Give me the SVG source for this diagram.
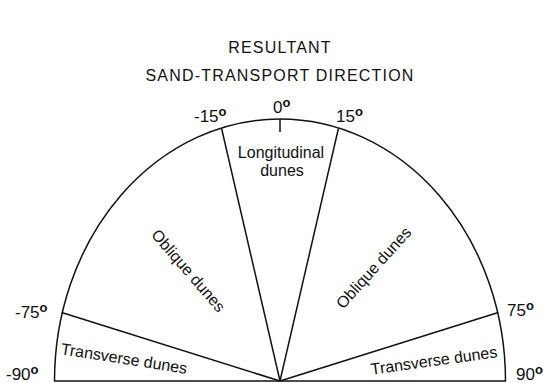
<svg xmlns="http://www.w3.org/2000/svg" width="548" height="383" viewBox="0 0 548 383">
<style>
text{font-family:"Liberation Sans",Arial,sans-serif;fill:#111}
.title{font-size:16px;letter-spacing:1.2px;text-anchor:middle}
.deg{font-size:17px}
.sup{font-size:13px;font-weight:bold}
.lab{font-size:16px}
.ln{stroke:#111;stroke-width:1.5;fill:none}
</style>
<rect width="548" height="383" fill="#fff"/>
<g id="title">
<text class="title" x="280" y="53">RESULTANT</text>
<text class="title" x="280" y="81">SAND-TRANSPORT DIRECTION</text>
</g>
<g id="connectors">
<path class="ln" d="M54.5,381 A225.5 262 0 0 1 505.5,381"/>
<line class="ln" x1="54" y1="381" x2="506" y2="381" stroke-width="2.2"/>
<line class="ln" x1="280" y1="381" x2="61.7" y2="312.5"/>
<line class="ln" x1="280" y1="381" x2="221.6" y2="128.5"/>
<line class="ln" x1="280" y1="381" x2="338.4" y2="128.5"/>
<line class="ln" x1="280" y1="381" x2="498.3" y2="312.5"/>
<line class="ln" x1="280" y1="119" x2="280" y2="132"/>
</g>
<g id="angles">
<text class="deg" x="194" y="122">-15<tspan class="sup" dy="-6">o</tspan></text>
<text class="deg" x="273" y="113">0<tspan class="sup" dy="-6">o</tspan></text>
<text class="deg" x="336" y="122">15<tspan class="sup" dy="-6">o</tspan></text>
<text class="deg" x="15" y="318">-75<tspan class="sup" dy="-6">o</tspan></text>
<text class="deg" x="6" y="380">-90<tspan class="sup" dy="-6">o</tspan></text>
<text class="deg" x="507" y="316">75<tspan class="sup" dy="-6">o</tspan></text>
<text class="deg" x="516" y="380">90<tspan class="sup" dy="-6">o</tspan></text>
</g>
<g id="longitudinal">
<text class="lab" text-anchor="middle" x="281" y="158">Longitudinal</text>
<text class="lab" text-anchor="middle" x="282" y="176">dunes</text>
</g>
<g id="oblique-left">
<text class="lab" text-anchor="middle" transform="translate(188,271) rotate(49)" x="0" y="5">Oblique dunes</text>
</g>
<g id="oblique-right">
<text class="lab" text-anchor="middle" transform="translate(374,268) rotate(-48)" x="0" y="5">Oblique dunes</text>
</g>
<g id="transverse-left">
<text class="lab" text-anchor="middle" transform="translate(124,359) rotate(9)" x="0" y="5">Transverse dunes</text>
</g>
<g id="transverse-right">
<text class="lab" text-anchor="middle" transform="translate(434,361) rotate(-8)" x="0" y="5">Transverse dunes</text>
</g>
</svg>
